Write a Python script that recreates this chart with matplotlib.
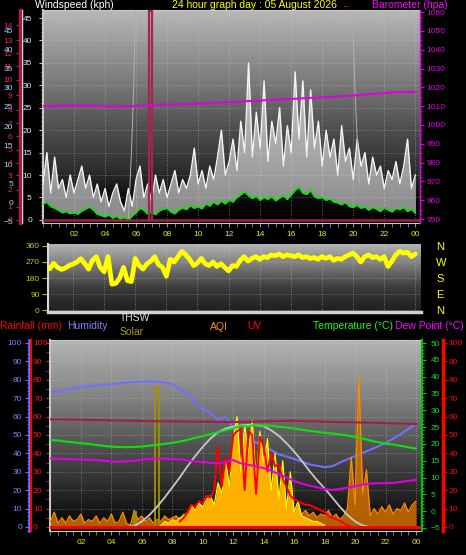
import matplotlib
matplotlib.use('Agg')
import matplotlib.pyplot as plt
import numpy as np
from matplotlib.colors import LinearSegmentedColormap
from matplotlib.ticker import MultipleLocator

plt.rcParams['font.family'] = ['Liberation Sans', 'DejaVu Sans']
plt.rcParams['font.size'] = 6

W, H = 466, 555

hours = [2, 4, 6, 8, 10, 12, 14, 16, 18, 20, 22, 24]
hour_labels = ['02', '04', '06', '08', '10', '12', '14', '16', '18', '20', '22', '00']

# quarter hour sample times, 00:00 .. 24:00
qt = np.arange(97) * 0.25
# half hour sample times
ht = np.arange(49) * 0.5

# --- wind (kph) ---
wind_avg = [3.5, 4.0, 3.0, 2.6, 2.2, 1.6, 1.9, 1.4, 1.6, 1.3, 2.0, 2.4,
            2.9, 2.2, 1.3, 1.0, 0.7, 1.1, 0.4, 0.8, 0.2, 0.6, -0.2, 0.9,
            1.6, 2.6, 2.2, 1.3, 1.7, 1.2, 2.0, 2.4, 2.6, 1.8, 1.4, 2.2,
            2.7, 2.3, 3.2, 2.6, 3.0, 2.5, 3.6, 3.1, 4.0, 3.4, 4.2, 3.6,
            4.4, 4.0, 5.0, 5.6, 6.3, 5.4, 4.8, 5.3, 4.4, 5.0, 4.6, 5.2,
            4.3, 4.9, 5.4, 4.6, 5.6, 6.6, 7.3, 6.0, 5.7, 6.6, 5.2, 4.8,
            5.0, 4.4, 4.7, 4.0, 3.8, 3.4, 3.9, 3.0, 2.8, 3.3, 2.6, 2.9,
            2.2, 2.8, 2.4, 1.9, 2.7, 2.2, 1.8, 2.6, 2.3, 2.8, 1.9, 2.4, 1.5]
wind_gust = [8, 15, 6, 14, 7, 9, 5, 10, 6, 9, 12, 7,
             10, 5, 8, 4, 7, 3, 6, 8, 4, 2, 7, 3,
             9, 12, 5, 8, 4, 10, 6, 9, 5, 8, 11, 6,
             9, 7, 10, 16, 8, 11, 7, 12, 9, 14, 20, 10,
             13, 18, 11, 22, 15, 35, 14, 24, 16, 31, 13, 22,
             17, 25, 12, 21, 15, 33, 18, 31, 14, 29, 16, 22,
             12, 20, 14, 18, 10, 21, 13, 16, 9, 18, 12, 15,
             8, 14, 10, 12, 7, 11, 9, 13, 8, 12, 18, 7, 10]
rain_spike_t = [6.93]
rain_spike_kph = [46.5]
trace1_t = [5.5, 5.7, 5.85, 5.95]
trace1_kph = [0, 15, 30, 46.8]
trace2_t = [20.0, 20.1, 20.25, 20.4]
trace2_kph = [41, 30, 18, 8]
beaufort = [0, 1, 2, 3, 4, 5, 6, 7, 8, 9, 10, 11, 12, 13, 14]
beaufort_kph = [0, 2.9, 6.7, 10.0, 12.7, 15.6, 18.7, 21.6, 24.5, 27.8,
                31.2, 34.3, 37.2, 40.1, 43.4]

# --- barometer (hPa), hourly ---
baro_t = np.arange(25)
baro = [1010.0, 1010.2, 1010.5, 1010.3, 1009.8, 1009.8, 1010.0, 1010.6,
        1010.8, 1011.0, 1011.4, 1011.8, 1012.2, 1012.6, 1013.0, 1013.4,
        1013.8, 1014.3, 1014.7, 1015.2, 1015.6, 1016.4, 1017.0, 1017.5, 1017.6]

# --- wind direction (deg), quarter hour ---
wind_dir = [245, 250, 232, 262, 240, 228, 236, 250, 258, 270, 288, 262,
            230, 280, 300, 240, 215, 300, 145, 150, 180, 240, 165, 160,
            290, 250, 230, 260, 275, 300, 255, 240, 190, 285, 270, 300,
            330, 310, 285, 250, 265, 290, 260, 250, 270, 245, 260, 240,
            220, 250, 245, 280, 300, 275, 290, 300, 285, 300, 295, 310,
            305, 315, 300, 310, 305, 300, 310, 295, 300, 290, 295, 285,
            300, 290, 300, 280, 290, 285, 300, 310, 320, 300, 270, 300,
            310, 295, 300, 285, 300, 245, 275, 310, 330, 320, 325, 300, 315]

# --- humidity (%) ---
hum_t = [0, 1, 2, 3, 4, 5, 6, 7, 7.5, 8, 8.5, 9, 9.5, 10, 10.5, 11, 11.5,
         12, 12.5, 13, 13.5, 14, 15, 16, 17, 18, 18.5, 19, 20, 21, 22, 23, 24]
humidity = [73, 74.5, 76, 77, 77.5, 78.5, 79, 79, 78.5, 77.5, 75, 72.5, 68,
            64, 62, 58, 60, 53.5, 51, 48, 46, 44, 39.5, 37, 34, 32.5, 33,
            35, 38.5, 42, 45.5, 50.5, 56]

# --- temperature / dew point (C), half hour ---
temperature = [21.2, 21.0, 20.7, 20.5, 20.2, 20.0, 19.7, 19.4, 19.2, 19.1,
               19.0, 19.1, 19.2, 19.5, 19.7, 20.0, 20.3, 20.7, 21.2, 21.8,
               22.3, 22.9, 23.5, 24.1, 24.6, 25.4, 25.2, 25.8, 25.5, 25.4,
               25.1, 24.9, 24.6, 24.2, 23.9, 23.6, 23.3, 23.1, 22.8, 22.5,
               22.1, 21.6, 21.0, 20.5, 20.1, 19.8, 19.4, 19.0, 18.6]
dew_point = [15.7, 15.6, 15.5, 15.4, 15.3, 15.3, 15.2, 15.0, 14.8, 14.7,
             14.8, 15.0, 15.3, 15.5, 15.7, 15.6, 15.5, 15.4, 15.1, 14.8,
             14.6, 14.4, 14.2, 14.6, 15.2, 14.2, 13.8, 13.3, 12.8, 12.0,
             11.0, 10.0, 9.0, 8.2, 7.6, 7.1, 6.6, 6.3, 6.6, 7.0,
             7.4, 7.9, 8.2, 8.3, 8.3, 8.4, 8.7, 9.0, 9.3]
indoor_t = [0, 2, 4, 6, 8, 10, 12, 14, 16, 18, 20, 22, 24]
indoor = [27.3, 27.2, 27.0, 26.8, 26.7, 26.6, 26.5, 26.7, 26.9, 26.6, 26.4, 26.2, 25.9]

# --- THSW (percent scale), half hour from 05:00 ---
thsw_t = 5 + np.arange(33) * 0.5
thsw = [0, 0.5, 3, 6.5, 11, 16, 21.5, 27, 33, 38.5, 43.5, 48, 51.5, 53.5,
        54.5, 55.2, 55.5, 55.3, 54.8, 52.5, 49.5, 45.5, 41, 36, 30.5, 25.5,
        21, 16, 11, 6.5, 3, 0.8, 0]

# --- solar, quarter hour from 07:00 ---
solar_t = 7 + np.arange(45) * 0.25
solar = [0, 1, 3, 2, 4, 3, 5, 6, 8, 12, 9, 13, 11, 15, 17, 12,
         24, 18, 36, 22, 48, 60, 30, 55, 40, 58, 25, 52, 35, 48, 20, 40,
         15, 36, 10, 30, 8, 14, 6, 5, 4, 3, 3, 2, 1]
solar_spike_t = [7.0, 5.55]
solar_spike = [76, 8]

# --- UV, quarter hour from 08:30 ---
uv_t = 8.5 + np.arange(47) * 0.25
uv = [3, 5, 8, 12, 11, 14, 13, 17, 16, 20,
      44, 22, 38, 30, 50, 52, 53, 20, 52, 50, 18, 49, 44, 30, 40, 33,
      34, 26, 22, 17, 15, 14, 13, 12, 12, 11, 10, 9, 8, 6, 5, 4,
      3.5, 2, 1, 0, 0]

# --- AQI, quarter hour ---
aqi = [3, 8, 2, 5, 2, 6, 3, 4, 7, 2, 4, 3, 6, 2, 5, 3, 7, 2, 3, 8,
       2, 1, 9, 4, 6, 3, 5, 2, 4, 3, 6, 4, 5, 6, 4, 7, 5, 8, 6, 7,
       9, 6, 8, 10, 7, 9, 8, 11, 9, 10, 8, 12, 9, 11, 8, 10, 7, 9, 8, 10,
       6, 9, 7, 8, 6, 8, 7, 9, 6, 8, 5, 7, 6, 9, 5, 7, 4, 6, 10, 38,
       12, 82, 18, 31, 6, 10, 7, 11, 8, 12, 7, 10, 9, 13, 8, 12, 14]

rain_t = [0, 24.3]
rain = [0, 0]

fig = plt.figure(figsize=(W / 100, H / 100), dpi=100, facecolor='black')


def px_axes(l, t, r, b):
    return fig.add_axes([l / W, 1 - b / H, (r - l) / W, (b - t) / H])


def backdrop(ax, stops):
    cmap = LinearSegmentedColormap.from_list('bg', stops)
    ax.imshow(np.linspace(1, 0, 256)[:, None], cmap=cmap, vmin=0, vmax=1,
              aspect='auto', extent=(0, 1, 0, 1), transform=ax.transAxes,
              zorder=0, interpolation='bilinear')


def hour_axis(ax, labels):
    ax.set_xticks(hours)
    ax.set_xticklabels(hour_labels if labels else [])
    ax.xaxis.set_minor_locator(MultipleLocator(0.5))
    ax.tick_params(axis='x', which='both', colors='#909090', length=3,
                   labelcolor='#e8e800', labelsize=6, pad=3)
    ax.grid(True, axis='x', color='#d0d0d0', ls=(0, (1, 2)), lw=0.6, alpha=0.6)


def only_spine(ax, side, pos, colour, lw):
    for s in ax.spines.values():
        s.set_visible(False)
    ax.spines[side].set_visible(True)
    ax.spines[side].set_position(('axes', pos))
    ax.spines[side].set_color(colour)
    ax.spines[side].set_linewidth(lw)


# ================= top: wind speed & barometer =================
ax1 = px_axes(43, 10, 420, 223)
backdrop(ax1, [(0, '#000000'), (0.1, '#080808'), (0.25, '#2e2e2e'),
               (0.45, '#505050'), (0.65, '#787878'), (0.85, '#9c9c9c'),
               (1, '#b8b8b8')])
ax1.fill_between(qt, wind_avg, wind_gust, color='white', alpha=0.55, lw=0, zorder=2)
ax1.plot(qt, wind_gust, color='#f4f4f4', lw=1.0, zorder=3)
ax1.plot(trace1_t, trace1_kph, color='#b0b0b0', lw=0.7, zorder=3)
ax1.plot(trace2_t, trace2_kph, color='#b0b0b0', lw=0.7, zorder=3)
ax1.plot(qt, wind_avg, color='#10e010', lw=1.3, zorder=4)
ax1.plot(rain_t, rain, color='#a02048', lw=1.8, zorder=4)
ax1.bar(rain_spike_t, rain_spike_kph, width=0.25, fill=False,
        edgecolor='#a02850', lw=1.6, zorder=4)
ax1.set_xlim(0, 24.3)
ax1.set_ylim(-0.7, 46.8)
hour_axis(ax1, True)
ax1.set_yticks(np.arange(0, 46, 5))
ax1.yaxis.set_minor_locator(MultipleLocator(1))
ax1.tick_params(axis='y', which='both', colors='#c0c0c0', length=3,
                labelcolor='#d8e8f8', pad=5)
ax1.tick_params(axis='y', which='minor', length=1.5)
ax1.grid(True, axis='y', color='#d0d0d0', ls=(0, (1, 2)), lw=0.6, alpha=0.5)
for s in ax1.spines.values():
    s.set_color('#c8c8c8')
ax1.spines['left'].set_linewidth(1.5)

# second speed scale beside the white rule
axs = ax1.twinx()
only_spine(axs, 'left', (22 - 43) / 377, 'white', 1.0)
axs.yaxis.tick_left()
axs.set_ylim(-5.5, 50.5)
axs.set_yticks(np.arange(-5, 46, 5))
axs.tick_params(axis='y', length=0, labelcolor='#a8d0ff', pad=6.5)

# beaufort scale
axbf = ax1.twinx()
only_spine(axbf, 'left', (20 - 43) / 377, '#a02040', 2.5)
axbf.yaxis.tick_left()
axbf.set_ylim(-0.7, 46.8)
axbf.set_yticks(beaufort_kph)
axbf.set_yticklabels([str(b) for b in beaufort])
axbf.tick_params(axis='y', length=3, colors='#c02050', labelcolor='#e02860', pad=2.5)

# barometer
axb = ax1.twinx()
only_spine(axb, 'right', 1.0, '#e000e0', 1.0)
axb.plot(baro_t, baro, color='#e000e0', lw=1.5, zorder=5)
axb.set_ylim(947.9, 1061.1)
axb.set_yticks(np.arange(950, 1061, 10))
axb.yaxis.set_minor_locator(MultipleLocator(2.5))
axb.tick_params(axis='y', which='both', colors='#e000e0', length=3, pad=1.5)
axb.tick_params(axis='y', which='minor', length=1.5)

# ================= middle: wind direction =================
ax2 = px_axes(48, 244, 421, 312)
backdrop(ax2, [(0, '#1e1e1e'), (0.35, '#3a3a3a'), (0.6, '#6a6a6a'),
               (1, '#b4b4b4')])
ax2.plot(qt, wind_dir, color='#ffff00', lw=3.4, zorder=3, solid_capstyle='round')
ax2.set_xlim(0.39, 24.37)
ax2.set_ylim(-11, 371)
hour_axis(ax2, False)
ax2.tick_params(axis='x', which='both', length=0)
ax2.set_yticks([0, 90, 180, 270, 360])
ax2.tick_params(axis='y', colors='#b8b800', length=4, labelcolor='#c8c800', pad=2)
ax2.grid(True, axis='y', color='#d0d0d0', ls=(0, (1, 2)), lw=0.6, alpha=0.5)
for s in ax2.spines.values():
    s.set_visible(False)
ax2.spines['left'].set_visible(True)
ax2.spines['left'].set_color('#d8d8d8')
ax2.spines['left'].set_linewidth(1.5)
ax2.spines['bottom'].set_visible(True)
ax2.spines['bottom'].set_color('#d0d0d0')
ax2.spines['bottom'].set_linewidth(2.5)
axc = ax2.twinx()
for s in axc.spines.values():
    s.set_visible(False)
axc.set_ylim(-11, 371)
axc.set_yticks([0, 90, 180, 270, 360])
axc.set_yticklabels(['N', 'E', 'S', 'W', 'N'])
axc.tick_params(axis='y', length=0, labelcolor='#ffff00', labelsize=8, pad=11)

# ================= bottom: humidity, temperature, solar ... =================
ax3 = px_axes(50, 340, 421, 531)
backdrop(ax3, [(0, '#000000'), (0.1, '#141414'), (0.3, '#383838'),
               (0.5, '#5c5c5c'), (0.7, '#828282'), (1, '#b4b4b4')])
ax3.plot(hum_t, humidity, color='#7070ff', lw=1.5, zorder=2)
ax3.fill_between(qt, 0, aqi, color='#d07000', alpha=0.85, lw=0, zorder=3)
ax3.plot(qt, aqi, color='#ff8c00', lw=0.9, zorder=3)
ax3.fill_between(solar_t, 0, solar, color='#ffb000', lw=0, zorder=4)
ax3.plot(solar_t, solar, color='#ffff00', lw=0.8, zorder=4)
ax3.bar(solar_spike_t, solar_spike, width=[0.3, 0.1], fill=False,
        edgecolor='#a09000', lw=1.3, zorder=4)
ax3.plot(uv_t, uv, color='#ff0000', lw=1.4, zorder=5)
ax3.plot(thsw_t, thsw, color='#c8c8c8', lw=1.3, zorder=6)
ax3.plot(rain_t, rain, color='#ff0000', lw=2.2, zorder=6)
ax3.set_xlim(-0.03, 24.33)
ax3.set_ylim(-2.2, 101.6)
hour_axis(ax3, True)
ax3.set_yticks(np.arange(0, 101, 10))
ax3.yaxis.set_minor_locator(MultipleLocator(5))
ax3.tick_params(axis='y', which='both', colors='#e02020', length=3, labelleft=False)
ax3.grid(True, axis='y', color='#d0d0d0', ls=(0, (1, 2)), lw=0.6, alpha=0.5)
for s in ax3.spines.values():
    s.set_color('#c8c8c8')
ax3.spines['left'].set_linewidth(1.5)

axh = ax3.twinx()
only_spine(axh, 'left', (29 - 50) / 371, '#7070ff', 1.8)
axh.yaxis.tick_left()
axh.set_ylim(-2.2, 101.6)
axh.set_yticks(np.arange(0, 101, 10))
axh.yaxis.set_minor_locator(MultipleLocator(2))
axh.tick_params(axis='y', which='both', colors='#7070ff', length=3,
                labelcolor='#8080ff', pad=2)
axh.tick_params(axis='y', which='minor', length=1.5)

axr = ax3.twinx()
only_spine(axr, 'right', (31 - 50) / 371, '#ff0000', 1.5)
axr.set_ylim(-2.2, 101.6)
axr.set_yticks(np.arange(0, 101, 10))
axr.tick_params(axis='y', length=0, labelcolor='#ff1010', pad=1.5)

axt = ax3.twinx()
only_spine(axt, 'right', (422 - 50) / 371, '#00c000', 1.5)
axt.plot(indoor_t, indoor, color='#a02040', lw=1.5, zorder=2)
axt.plot(ht, temperature, color='#10e010', lw=1.5, zorder=3)
axt.plot(ht, dew_point, color='#e000e0', lw=1.5, zorder=3)
axt.set_ylim(-5.9, 50.9)
axt.set_yticks(np.arange(-5, 51, 5))
axt.yaxis.set_minor_locator(MultipleLocator(1))
axt.tick_params(axis='y', which='both', colors='#00d000', length=3,
                labelcolor='#10e010', pad=3)
axt.tick_params(axis='y', which='minor', length=1.5)

axu = ax3.twinx()
only_spine(axu, 'right', (443 - 50) / 371, '#ff0000', 2.5)
axu.set_ylim(-2.2, 101.6)
axu.set_yticks(np.arange(0, 101, 10))
axu.yaxis.set_minor_locator(MultipleLocator(5))
axu.tick_params(axis='y', which='both', colors='#ff0000', length=3, pad=1)
axu.tick_params(axis='y', which='minor', length=1.5)

# ================= titles and legend texts =================
def label(x, y, s, colour, size=7.5):
    fig.text(x / W, 1 - y / H, s, color=colour, fontsize=size, va='center', ha='left')


label(35, 5, 'Windspeed (kph)', 'white')
label(172, 5, '24 hour graph day : 05 August 2026', '#ffff00')
label(344, 7, '---', '#ff2020', 5)
label(372, 5, 'Barometer (hpa)', '#ff00ff')
label(0, 326, 'Rainfall (mm)', '#ff0000')
label(67, 326, 'Humidity', '#8080ff')
label(120, 318, 'THSW', '#e0e0e0')
label(120, 332, 'Solar', '#a8a000')
label(210, 327, 'AQI', '#ff8c00')
label(247, 326, 'UV', '#ff0000')
label(313, 326, 'Temperature (\u00b0C)', '#10ff10')
label(395, 326, 'Dew Point (\u00b0C)', '#ff00ff')

fig.savefig('out.png', dpi=100, facecolor='black')
